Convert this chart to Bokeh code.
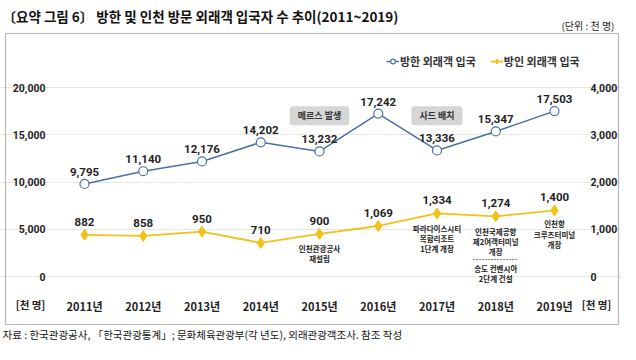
from bokeh.plotting import figure
from bokeh.models import (Range1d, LinearAxis, FixedTicker, Label, BoxAnnotation,
                          Legend, LegendItem, ColumnDataSource)
from bokeh.embed import file_html
from bokeh.resources import INLINE
from bokeh.core.properties import value

# ---------------- data ----------------
years = ["2011년", "2012년", "2013년", "2014년", "2015년", "2016년", "2017년", "2018년", "2019년"]
korea_arrivals = [9795, 11140, 12176, 14202, 13232, 17242, 13336, 15347, 17503]
incheon_arrivals = [882, 858, 950, 710, 900, 1069, 1334, 1274, 1400]
left_ticks = [0, 5000, 10000, 15000, 20000]
right_ticks = [0, 1000, 2000, 3000, 4000]
series_names = ["방한 외래객 입국", "방인 외래객 입국"]
event_boxes = [("메르스 발생", 4, 17000), ("사드 배치", 6, 17000)]
event_notes = [
    ("인천관광공사\n재설립", 4, 2480),
    ("파라다이스시티\n복합리조트\n1단계 개장", 6, 4000),
    ("인천국제공항\n제2여객터미널\n개장", 7, 3700),
    ("송도 컨벤시아\n2단계 건설", 7, 320),
    ("인천항\n크루즈터미널\n개장", 8, 4490),
]

KR = "Noto Sans CJK KR"
NUM = "Roboto"
BLUE = "#4a70a8"
YELLOW = "#f2c21a"

W, H = 620, 344

# layout geometry (canvas px)
X0_PX, DX_PX = 84.0, 58.75                 # centre of first category, category spacing
Y0_PX, PX_PER_UNIT = 276.0, 189.0 / 20000  # baseline 0 and scale of the left axis
PLOT_L_PX, PLOT_R_PX, PLOT_B_PX = 53.0, 583.0, 286.0


def xdata(px):
    return (px - X0_PX) / DX_PX


def ydata(py):
    return (Y0_PX - py) / PX_PER_UNIT


x = list(range(len(years)))
src = ColumnDataSource(dict(
    x=x,
    k=korea_arrivals,
    i=incheon_arrivals,
    klab=[f"{v:,}" for v in korea_arrivals],
    ilab=[f"{v:,}" for v in incheon_arrivals],
))

yl0, yl1 = ydata(H), ydata(0)
p = figure(width=W, height=H, output_backend="svg", toolbar_location=None,
           x_range=Range1d(xdata(0), xdata(W)), y_range=Range1d(yl0, yl1),
           min_border=0, outline_line_color=None,
           background_fill_color="white", border_fill_color="white")
p.extra_y_ranges = {"right": Range1d(yl0 / 5, yl1 / 5)}

# axes (drawn at fixed locations inside the canvas)
p.xaxis.ticker = FixedTicker(ticks=x)
p.xaxis.major_label_overrides = {i: y for i, y in enumerate(years)}
p.xaxis.fixed_location = ydata(PLOT_B_PX)
p.yaxis.ticker = FixedTicker(ticks=left_ticks)
p.yaxis.major_label_overrides = {t: f"{t:,}" for t in left_ticks}
p.yaxis.fixed_location = xdata(PLOT_L_PX)
ra = LinearAxis(y_range_name="right", ticker=FixedTicker(ticks=right_ticks),
                fixed_location=xdata(PLOT_R_PX))
ra.major_label_overrides = {t: f"{t:,}" for t in right_ticks}
p.add_layout(ra, "right")
for ax in [p.xaxis[0], p.yaxis[0], ra]:
    ax.axis_line_color = None
    ax.major_tick_line_color = None
    ax.minor_tick_line_color = None
    ax.major_tick_out = 0
    ax.major_tick_in = 0
    ax.minor_tick_out = 0
    ax.minor_tick_in = 0
    ax.major_label_text_font = NUM
    ax.major_label_text_color = "#222222"
    ax.major_label_text_font_style = "bold"
    ax.major_label_text_font_size = "10.5px"
p.xaxis.major_label_standoff = 11
p.xaxis.major_label_text_font = KR
p.xaxis.major_label_text_font_size = "11px"
p.yaxis.major_label_standoff = 8
ra.major_label_standoff = 7
p.xgrid.grid_line_color = None
p.ygrid.ticker = FixedTicker(ticks=left_ticks)
p.ygrid.grid_line_color = "#e6e6e6"
p.ygrid.bounds = (xdata(PLOT_L_PX), xdata(PLOT_R_PX))

# lines
kl = p.line("x", "k", source=src, line_color=BLUE, line_width=1.5)
kc = p.scatter("x", "k", source=src, marker="circle", size=9, fill_color="white",
               line_color=BLUE, line_width=1.2)
il = p.line("x", "i", source=src, y_range_name="right", line_color=YELLOW, line_width=1.8)
ic = p.scatter("x", "i", source=src, y_range_name="right", marker="diamond", size=11,
               fill_color=YELLOW, line_color=YELLOW)

p.text("x", "k", text="klab", source=src, text_align="center", text_baseline="middle",
       y_offset=-12, text_font=value(NUM), text_font_size="11.5px", text_font_style="bold",
       text_color="#222222")
p.text("x", "i", text="ilab", source=src, y_range_name="right", text_align="center",
       text_baseline="middle", y_offset=-13, text_font=value(NUM), text_font_size="11.5px",
       text_font_style="bold", text_color="#222222")

# event boxes
for txt, xi, yv in event_boxes:
    p.add_layout(Label(x=xi, y=yv, text=txt, text_align="center", text_baseline="middle",
                       text_font=KR, text_font_size="9px", text_font_style="bold",
                       text_color="#333333", background_fill_color="#d6d6d6",
                       padding=(8, 3), border_radius=3))

for txt, xi, yv in event_notes:
    p.text(x=[xi], y=[yv], text=[txt], text_align="center", text_baseline="middle",
           text_font=value(KR), text_font_size="7.5px", text_font_style="bold",
           text_color="#222222", text_line_height=0.92)

p.segment(x0=[7 - 0.383], y0=[1800], x1=[7 + 0.383], y1=[1800], line_color="#555555",
          line_width=0.8, line_dash="2 1")

# legend
leg = Legend(items=[LegendItem(label=series_names[0], renderers=[kl, kc]),
                    LegendItem(label=series_names[1], renderers=[il, ic])],
             orientation="horizontal", location=(386, H - 69), border_line_color=None,
             background_fill_alpha=0, label_text_font=KR, label_text_font_size="11px",
             label_text_font_style="bold", label_text_color="#333333",
             glyph_width=13, glyph_height=12, label_standoff=1, spacing=14,
             padding=0, margin=0, label_height=12)
p.add_layout(leg)


# texts positioned in canvas pixels (frame == canvas, origin bottom-left)
def sy(cy):
    return H - cy


p.add_layout(Label(x=2, y=sy(15), x_units="screen", y_units="screen",
                   text="〔요약 그림 6〕 방한 및 인천 방문 외래객 입국자 수 추이(2011~2019)",
                   text_font=KR, text_font_size="13.5px", text_font_style="bold",
                   text_color="#111111", text_baseline="middle"))
p.add_layout(Label(x=614, y=sy(25), x_units="screen", y_units="screen",
                   text="(단위 : 천 명)", text_font=KR, text_font_size="10px",
                   text_color="#222222", text_baseline="middle", text_align="right"))
p.add_layout(Label(x=2, y=sy(334), x_units="screen", y_units="screen",
                   text="자료 : 한국관광공사, 「한국관광통계」; 문화체육관광부(각 년도), 외래관광객조사. 참조 작성",
                   text_font=KR, text_font_size="10.5px", text_color="#111111",
                   text_baseline="middle"))
for cx in (30, 596):
    p.add_layout(Label(x=cx, y=sy(304), x_units="screen", y_units="screen",
                       text="[천 명]", text_font=KR, text_font_size="10.5px",
                       text_font_style="bold", text_color="#222222",
                       text_baseline="middle", text_align="center"))

p.add_layout(BoxAnnotation(left=5, right=618, top=sy(33), bottom=sy(324),
                           left_units="screen", right_units="screen",
                           top_units="screen", bottom_units="screen",
                           fill_alpha=0, line_color="#111111", line_width=1.2,
                           editable=False))

open("out.html", "w").write(file_html(p, INLINE))
